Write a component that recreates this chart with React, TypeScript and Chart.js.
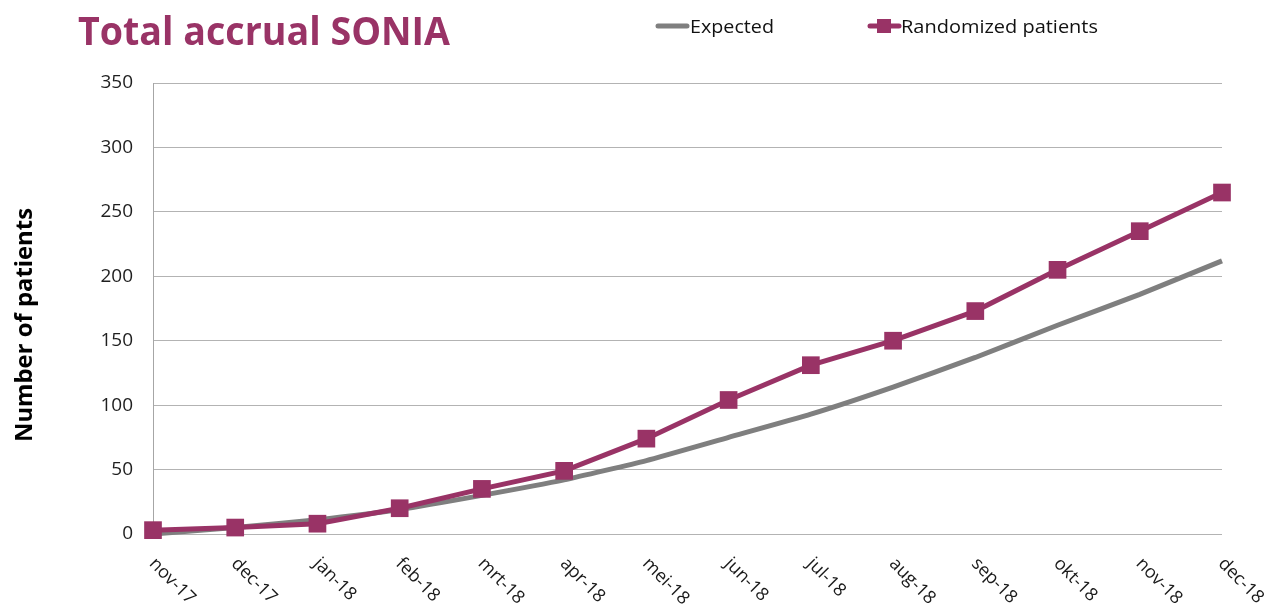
import React, { useEffect, useRef } from "react";
import { Chart, registerables } from "chart.js";

Chart.register(...registerables);

const months = [
  "nov-17", "dec-17", "jan-18", "feb-18", "mrt-18", "apr-18", "mei-18",
  "jun-18", "jul-18", "aug-18", "sep-18", "okt-18", "nov-18", "dec-18",
];
const expected = [0, 5, 11, 19, 30, 42, 57, 75, 93, 114, 137, 162, 186, 212];
const randomized = [3, 5, 8, 20, 35, 49, 74, 104, 131, 150, 173, 205, 235, 265];
const yMin = 0;
const yMax = 350;
const yStep = 50;
const chartTitle = "Total accrual SONIA";
const yAxisTitle = "Number of patients";
const legendExpected = "Expected";
const legendRandomized = "Randomized patients";

const PURPLE = "#993366";
const GRAY = "#7f7f7f";
const FONT = "'Open Sans', 'Noto Sans', sans-serif";

function fitText(ctx: CanvasRenderingContext2D, text: string, x: number, y: number, width: number) {
  const w = ctx.measureText(text).width;
  ctx.save();
  ctx.translate(x, y);
  ctx.scale(width / w, 1);
  ctx.fillText(text, 0, 0);
  ctx.restore();
}

const overlay = {
  id: "overlay",
  afterDraw(chart: any) {
    const ctx: CanvasRenderingContext2D = chart.ctx;
    const xs = chart.scales.x;
    const ys = chart.scales.y;

    // Title
    ctx.save();
    ctx.fillStyle = PURPLE;
    ctx.font = `bold 40px ${FONT}`;
    ctx.textAlign = "left";
    ctx.textBaseline = "alphabetic";
    fitText(ctx, chartTitle, 78, 45, 372);
    ctx.restore();

    // Legend
    ctx.save();
    ctx.lineCap = "round";
    ctx.strokeStyle = GRAY;
    ctx.lineWidth = 5;
    ctx.beginPath();
    ctx.moveTo(658, 26);
    ctx.lineTo(687, 26);
    ctx.stroke();
    ctx.strokeStyle = PURPLE;
    ctx.lineWidth = 5;
    ctx.beginPath();
    ctx.moveTo(870, 26);
    ctx.lineTo(899, 26);
    ctx.stroke();
    ctx.fillStyle = PURPLE;
    ctx.fillRect(877, 19, 14, 14);
    ctx.fillStyle = "#111";
    ctx.font = `19px ${FONT}`;
    ctx.textBaseline = "alphabetic";
    fitText(ctx, legendExpected, 690, 33, 84);
    fitText(ctx, legendRandomized, 901, 33, 197);
    ctx.restore();

    // Y axis title
    ctx.save();
    ctx.fillStyle = "#000";
    ctx.font = `bold 24px ${FONT}`;
    ctx.translate(32, 442);
    ctx.rotate(-Math.PI / 2);
    ctx.textAlign = "left";
    ctx.textBaseline = "alphabetic";
    fitText(ctx, yAxisTitle, 0, 0, 234);
    ctx.restore();

    // X tick labels rotated clockwise
    ctx.save();
    ctx.fillStyle = "#1a1a1a";
    ctx.font = `18px ${FONT}`;
    ctx.textAlign = "left";
    ctx.textBaseline = "middle";
    months.forEach((m, i) => {
      const px = xs.getPixelForTick(i);
      ctx.save();
      ctx.translate(px - 1, ys.bottom + 27);
      ctx.rotate(Math.PI / 4);
      ctx.fillText(m, 0, 0);
      ctx.restore();
    });
    ctx.restore();
  },
};

export default function App() {
  const ref = useRef<HTMLCanvasElement | null>(null);
  useEffect(() => {
    if (!ref.current) return;
    const chart = new Chart(ref.current, {
      type: "line",
      data: {
        labels: months,
        datasets: [
          {
            label: legendExpected,
            data: expected,
            borderColor: GRAY,
            backgroundColor: GRAY,
            borderWidth: 5,
            pointRadius: 0,
            pointHoverRadius: 0,
            tension: 0.15,
            order: 1,
            clip: false as any,
          },
          {
            label: legendRandomized,
            data: randomized,
            borderColor: PURPLE,
            backgroundColor: PURPLE,
            borderWidth: 5,
            pointStyle: "rect",
            pointRadius: 12.5,
            pointBorderWidth: 0,
            pointBackgroundColor: PURPLE,
            tension: 0,
            order: 0,
            clip: false as any,
          },
        ],
      },
      options: {
        animation: false,
        responsive: true,
        maintainAspectRatio: false,
        layout: { padding: { top: 83, right: 49, left: 0, bottom: 0 } },
        plugins: {
          legend: { display: false },
          title: { display: false },
          tooltip: { enabled: false },
        },
        scales: {
          x: {
            offset: false,
            grid: { display: false, drawTicks: false },
            border: { display: false },
            ticks: { display: false },
            afterFit: (s: any) => {
              s.height = 611 - 534;
            },
          },
          y: {
            min: yMin,
            max: yMax,
            ticks: {
              stepSize: yStep,
              padding: 20,
              color: "#1f1f1f",
              font: { family: FONT, size: 19 },
            },
            grid: { color: "#b3b3b3", lineWidth: 1, drawTicks: false },
            border: { display: true, color: "#a6a6a6", width: 1 },
            afterFit: (s: any) => {
              s.width = 153;
            },
          },
        },
      },
      plugins: [overlay],
    });
    return () => chart.destroy();
  }, []);
  return (
    <div style={{ position: "fixed", left: 0, top: 0, width: 1271, height: 611, background: "#fff" }}>
      <canvas ref={ref} />
    </div>
  );
}
